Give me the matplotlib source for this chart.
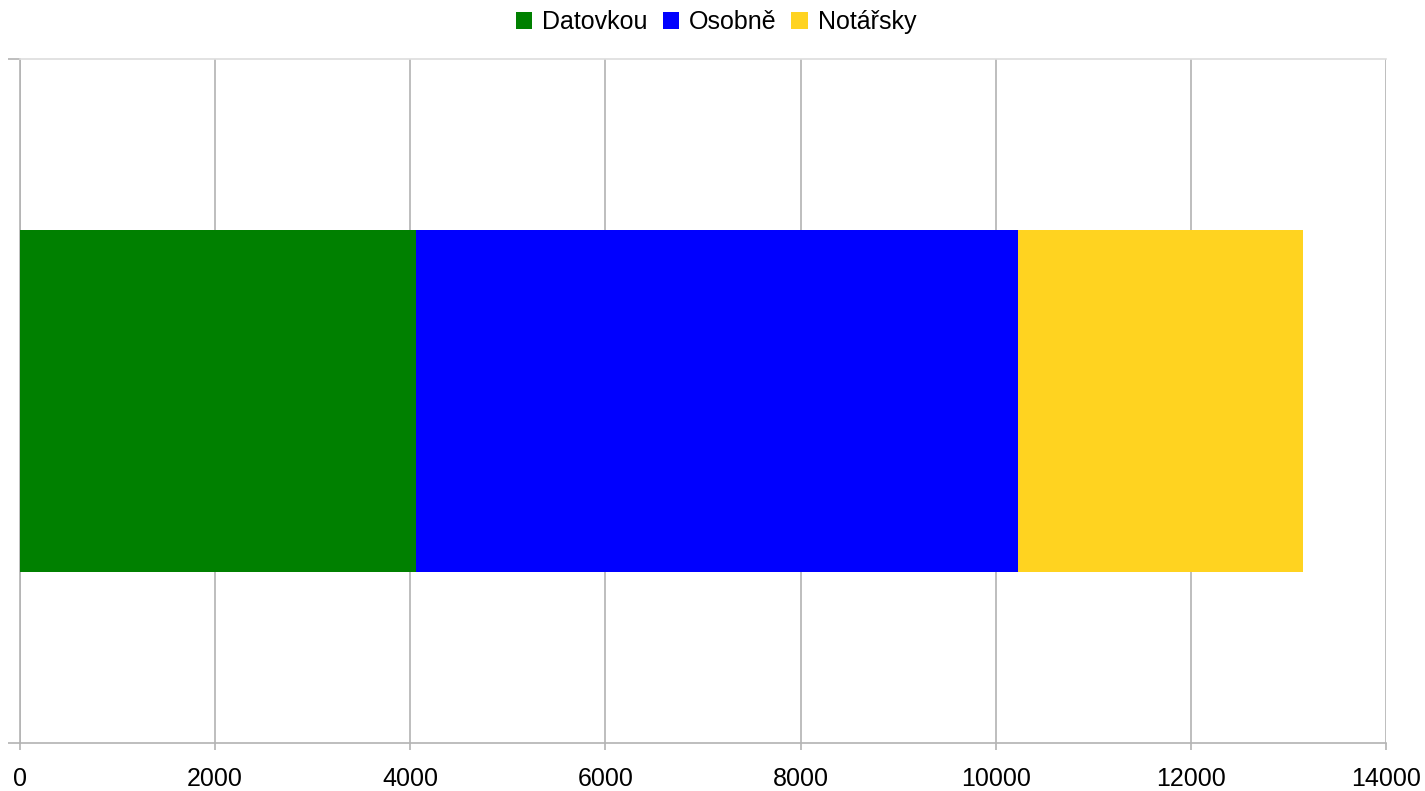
import numpy as np
import matplotlib.pyplot as plt

# Data
kategorie = ['']
serie = ['Datovkou', 'Osobně', 'Notářsky']
hodnoty = [4060, 6170, 2920]
barvy = ['#008000', '#0000ff', '#ffd320']
x_ticks = [0, 2000, 4000, 6000, 8000, 10000, 12000, 14000]

plt.rcParams['font.family'] = ['Liberation Sans', 'DejaVu Sans']

fig = plt.figure(figsize=(14.25, 7.91), dpi=100)
ax = fig.add_axes([20 / 1425, 48 / 791, 1366 / 1425, 684 / 791])

left = 0
for nazev, hodnota, barva in zip(serie, hodnoty, barvy):
    ax.barh(0.5, hodnota, height=0.5, left=left, color=barva, label=nazev, zorder=3)
    left += hodnota

ax.set_xlim(0, 14000)
ax.set_ylim(0, 1)
ax.set_xticks(x_ticks)
ax.set_xticklabels([str(t) for t in x_ticks], fontsize=18)
ax.set_yticks([0, 1])
ax.set_yticklabels(['', ''])

ax.grid(axis='x', color='#b3b3b3', lw=1.2, zorder=0)
ax.tick_params(axis='x', length=5, color='#b3b3b3', width=1.2, pad=12)
ax.tick_params(axis='y', length=8.5, color='#b3b3b3', width=1.2)

ax.spines['right'].set_visible(False)
ax.spines['top'].set_color('#dddddd')
ax.spines['left'].set_color('#b3b3b3')
ax.spines['bottom'].set_color('#b3b3b3')
for s in ax.spines.values():
    s.set_linewidth(1.2)

ax.legend(loc='upper center', bbox_to_anchor=((716 - 20) / 1366, 1.0 + 59 / 684), ncol=3,
          frameon=False, fontsize=18, handlelength=0.65, handleheight=0.65, handletextpad=0.4,
          columnspacing=0.6, borderaxespad=0)

fig.savefig('out.png', dpi=100)
